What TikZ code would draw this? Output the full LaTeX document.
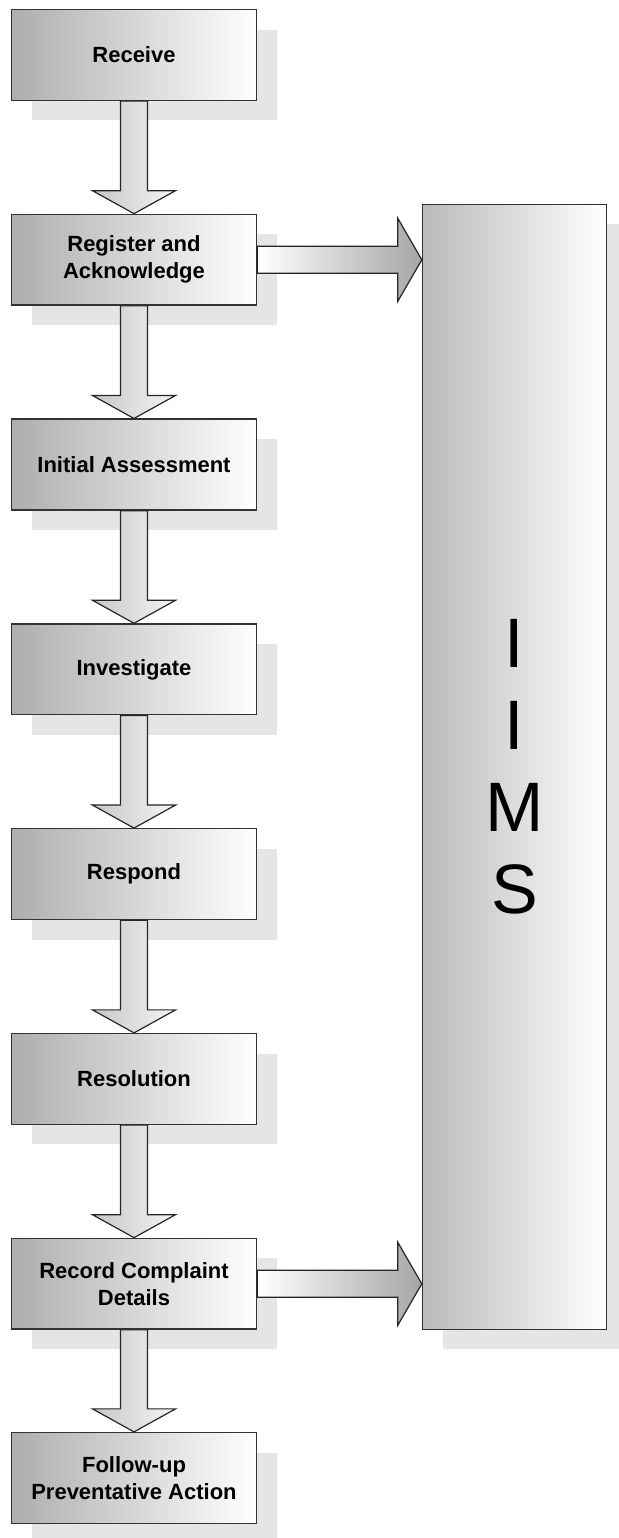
\documentclass[tikz,border=0pt]{standalone}
\usepackage{fontspec}
\setmainfont{Liberation Sans}
\usetikzlibrary{positioning, calc, shadows}

% fat block arrows between named boxes
\newcommand\flowdown[2]{%
  \draw[downflow] ($(#1.south)+(-13.5,0)$) -- ($(#2.north)+(-13.5,23)$) -- ++(-28,0)
    -- (#2.north) -- ($(#2.north)+(41.5,23)$) -- ++(-28,0) -- ($(#1.south)+(13.5,0)$) -- cycle;}
\newcommand\flowright[2]{%
  \draw[sideflow] ($(#1.east)+(0,13.5)$) -- ($(#2.west |- #1.east)+(-24,13.5)$) -- ++(0,28)
    -- (#2.west |- #1.east) -- ($(#2.west |- #1.east)+(-24,-41.5)$) -- ++(0,28) -- ($(#1.east)+(0,-13.5)$) -- cycle;}

\begin{document}
\begin{tikzpicture}[
    x=0.5pt, y=0.5pt,
    node distance=56.3pt,
    shade/.style={drop shadow={shadow xshift=10pt, shadow yshift=-10pt, fill=black!10, opacity=1}},
    box/.style={
        draw=black!80,
        line width=0.7pt,
        rectangle,
        minimum width=122.5pt,
        minimum height=45.4pt,
        inner sep=0pt,
        align=center,
        font=\bfseries\fontsize{11}{13.5}\selectfont,
        left color=black!32,
        right color=white,
        shade
    },
    ims/.style={box, minimum width=92pt, minimum height=562.5pt,
        font=\fontsize{35}{41}\selectfont, left color=black!27},
    downflow/.style={draw=black!85, line width=0.6pt, left color=black!22, right color=black!4},
    sideflow/.style={draw=black!85, line width=0.6pt, left color=white, right color=black!35}
]
    \useasboundingbox (0,0) rectangle (618,1538);

    \node[box] (receive) at (134,1483) {Receive};
    \node[box] (register) [below=of receive] {Register and\\Acknowledge};
    \node[box] (assess) [below=of register] {Initial Assessment};
    \node[box] (investigate) [below=of assess] {Investigate};
    \node[box] (respond) [below=of investigate] {Respond};
    \node[box] (resolution) [below=of respond] {Resolution};
    \node[box] (record) [below=of resolution] {Record Complaint\\Details};
    \node[box] (followup) [below=51pt of record] {Follow-up\\Preventative Action};
    \node[ims] (ims) at (514.5,771) {I\\I\\M\\S};

    \flowdown{receive}{register}
    \flowdown{register}{assess}
    \flowdown{assess}{investigate}
    \flowdown{investigate}{respond}
    \flowdown{respond}{resolution}
    \flowdown{resolution}{record}
    \flowdown{record}{followup}
    \flowright{register}{ims}
    \flowright{record}{ims}

\end{tikzpicture}
\end{document}
